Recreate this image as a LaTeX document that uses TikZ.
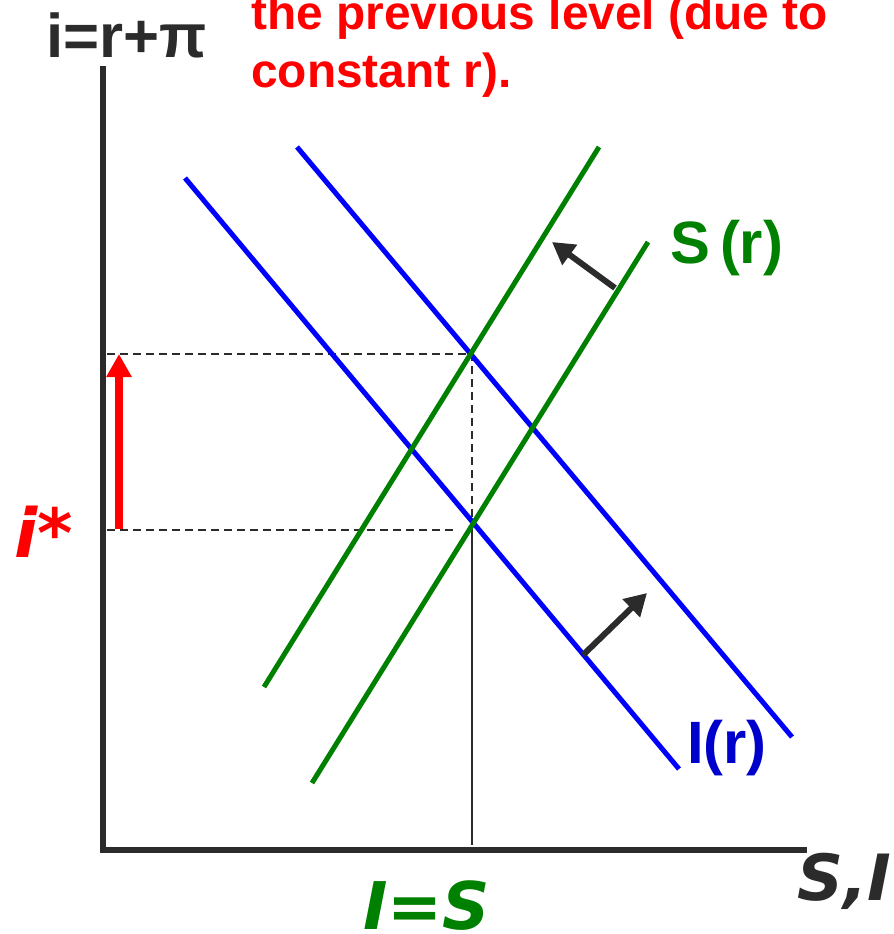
\documentclass[tikz,border=0pt]{standalone}
\usepackage{fontspec}
\setmainfont{Liberation Sans}
\newfontfamily\slantfont{DejaVu Sans}
\usetikzlibrary{arrows.meta}
\definecolor{axisgray}{RGB}{43,43,43}
\definecolor{schedgreen}{RGB}{0,128,0}
\definecolor{schedblue}{RGB}{0,0,255}
\definecolor{labelblue}{RGB}{0,0,204}
\definecolor{notered}{RGB}{255,0,0}

\begin{document}
\begin{tikzpicture}[x=1bp,y=-1bp,
  sched/.style={line width=5bp},
  guide/.style={axisgray,line width=1.3bp,dash pattern=on 8bp off 5bp},
  shiftarrow/.style={axisgray,line width=6bp,-{Triangle[width=24bp,length=22bp]}},
  lab/.style={inner sep=0pt,anchor=base west}]
\useasboundingbox (0,0) rectangle (894,934);
% axes
\coordinate (ytop) at (103,66);
\coordinate (orig) at (103,850);
\coordinate (xend) at (807,850);
\draw[axisgray,line width=6bp] (ytop) -- (orig) -- (xend);
\node[lab,axisgray,font=\fontsize{62}{70}\selectfont\bfseries] (ylab) at (46,57) {i=r+π};
\node[lab,axisgray,font=\slantfont\fontsize{64}{70}\selectfont\bfseries\itshape] (xlab) at (797,900) {S,I};
% note (cut off at the top)
\node[lab,notered,font=\fontsize{48}{58}\selectfont\bfseries] (note1) at (251,29) {the previous level (due to};
\node[lab,notered,font=\fontsize{48}{58}\selectfont\bfseries] (note2) at (251,87) {constant r).};
% equilibria and guides
\coordinate (eqhi) at (472,354);
\coordinate (eqlo) at (472,530);
\coordinate (yhi) at (107,354);
\coordinate (ylo) at (107,530);
\coordinate (ylo2) at (458,530);
\coordinate (xeq) at (472,845);
\draw[guide] (yhi) -- (eqhi) -- (eqlo);
\draw[guide] (ylo) -- (ylo2);
\draw[axisgray,line width=1.3bp] (eqlo) -- (xeq);
% investment curves
\coordinate (iA) at (185,178);
\coordinate (iB) at (679,769);
\coordinate (iC) at (297,147);
\coordinate (iD) at (792,737);
\draw[sched,schedblue] (iA) -- (iB);
\draw[sched,schedblue] (iC) -- (iD);
% saving curves
\coordinate (sA) at (264,687);
\coordinate (sB) at (599,147);
\coordinate (sC) at (312,783);
\coordinate (sD) at (648,242);
\draw[sched,schedgreen] (sA) -- (sB);
\draw[sched,schedgreen] (sC) -- (sD);
% shifts
\coordinate (sfrom) at (615,288);
\coordinate (sto) at (552,242);
\coordinate (ifrom) at (583,655);
\coordinate (ito) at (647,593);
\draw[shiftarrow] (sfrom) -- (sto);
\draw[shiftarrow] (ifrom) -- (ito);
\coordinate (rfrom) at (119,529);
\coordinate (rto) at (119,354);
\draw[notered,line width=8bp,-{Triangle[width=24bp,length=23bp]}] (rfrom) -- (rto);
% labels
\node[lab,schedgreen,font=\fontsize{60}{66}\selectfont\bfseries] (slab) at (670,263) {S\,(r)};
\node[lab,labelblue,font=\fontsize{60}{66}\selectfont\bfseries] (ilab) at (687,763) {I(r)};
\node[lab,notered,font=\slantfont\fontsize{68}{72}\selectfont\bfseries\itshape] (istar) at (14,557) {i*};
\node[lab,schedgreen,font=\slantfont\fontsize{66}{70}\selectfont\bfseries\itshape] (eqlab) at (363,929) {I=S};
\end{tikzpicture}
\end{document}
